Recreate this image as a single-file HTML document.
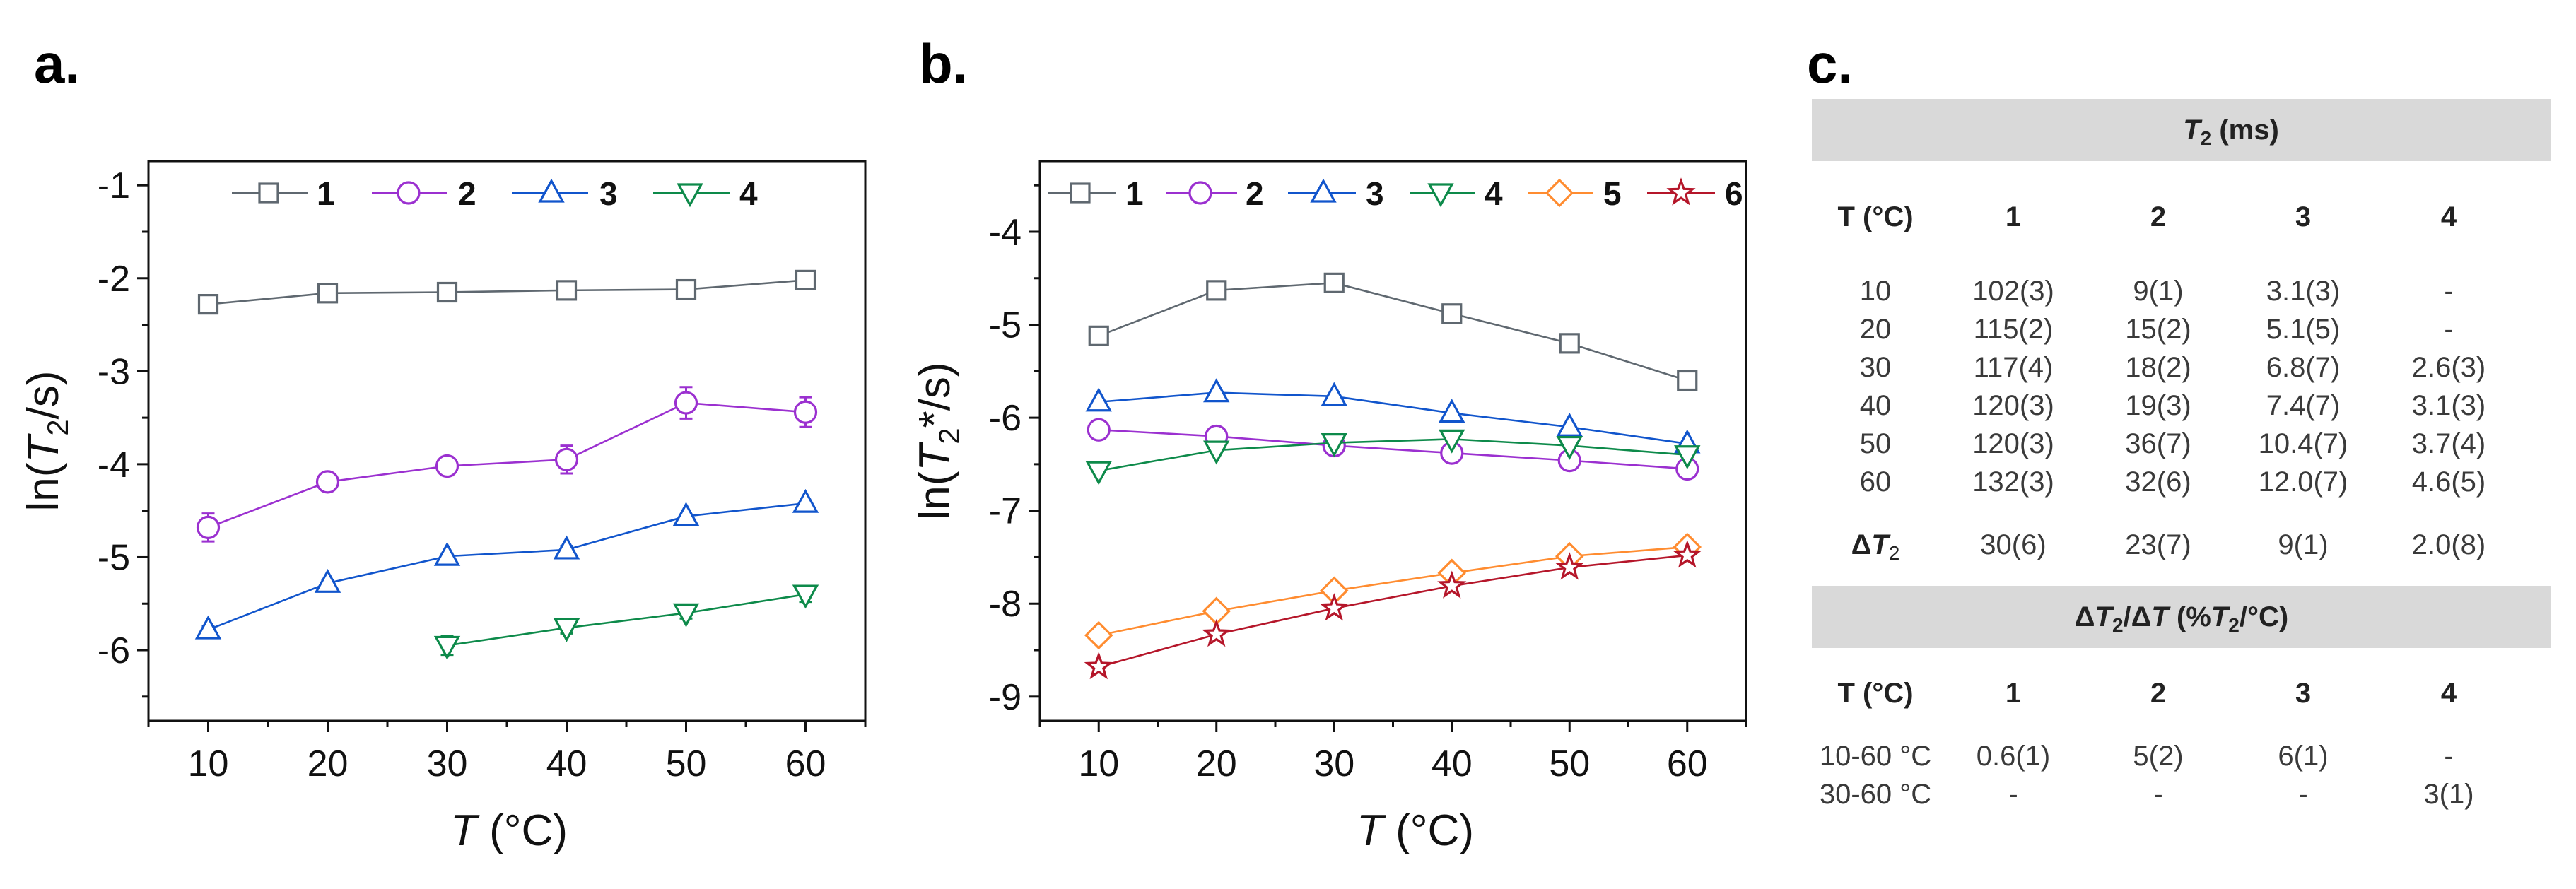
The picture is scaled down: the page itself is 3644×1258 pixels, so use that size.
<!DOCTYPE html>
<html><head><meta charset="utf-8"><style>
body{margin:0;background:#fff}
svg{display:block}
text{font-family:"Liberation Sans",sans-serif}
</style></head><body>
<svg id="fig" width="3644" height="1258" viewBox="0 0 3644 1258" xmlns="http://www.w3.org/2000/svg">
<text x="48" y="117" font-size="78" font-weight="bold">a.</text>
<text x="1300" y="117" font-size="78" font-weight="bold">b.</text>
<text x="2556" y="117" font-size="78" font-weight="bold">c.</text>
<g id="pa"></g>
<g id="pb"></g>
<g id="tc" fill="#3a3a3a" font-size="40">
  <rect x="2563" y="140" width="1046" height="88" fill="#d9d9d9"/>
  <text x="3156" y="197" text-anchor="middle" font-weight="bold" fill="#222"><tspan font-style="italic">T</tspan><tspan font-size="28" dy="8">2</tspan><tspan dy="-8"> (ms)</tspan></text>
  <rect x="2563" y="829" width="1046" height="88" fill="#d9d9d9"/>
  <text x="3086" y="886" text-anchor="middle" font-weight="bold" fill="#222">Δ<tspan font-style="italic">T</tspan><tspan font-size="28" dy="8">2</tspan><tspan dy="-8">/Δ</tspan><tspan font-style="italic">T</tspan> (%<tspan font-style="italic">T</tspan><tspan font-size="28" dy="8">2</tspan><tspan dy="-8">/°C)</tspan></text>
</g>
</svg>
<script>
// ---- data panel a ----
const temps = [10, 20, 30, 40, 50, 60];
const aS1 = [-2.28, -2.16, -2.15, -2.13, -2.12, -2.02];
const aS2 = [-4.68, -4.19, -4.02, -3.95, -3.34, -3.44];
const aS2err = [0.15, 0.08, 0.1, 0.15, 0.17, 0.16];
const aS3 = [-5.78, -5.28, -4.99, -4.92, -4.56, -4.42];
const aS3err = [0.04, 0.03, 0.03, 0.04, 0.02, 0.02];
const aS4 = [null, null, -5.95, -5.76, -5.60, -5.40];
const aS4err = [0, 0, 0.1, 0.06, 0.06, 0.08];
const aYTicks = [-1, -2, -3, -4, -5, -6];
// ---- data panel b ----
const bS1 = [-5.12, -4.63, -4.55, -4.88, -5.20, -5.60];
const bS2 = [-6.13, -6.20, -6.30, -6.38, -6.46, -6.55];
const bS3 = [-5.83, -5.73, -5.77, -5.95, -6.10, -6.28];
const bS4 = [-6.57, -6.35, -6.27, -6.23, -6.30, -6.40];
const bS5 = [-8.34, -8.08, -7.86, -7.67, -7.49, -7.39];
const bS6 = [-8.68, -8.33, -8.05, -7.81, -7.61, -7.48];
const bYTicks = [-4, -5, -6, -7, -8, -9];
const xTicks = [10, 20, 30, 40, 50, 60];
const seriesLabels = ['1', '2', '3', '4', '5', '6'];
// ---- table data ----
const tableTemps = ['10', '20', '30', '40', '50', '60'];
const tCol1 = ['102(3)', '115(2)', '117(4)', '120(3)', '120(3)', '132(3)'];
const tCol2 = ['9(1)', '15(2)', '18(2)', '19(3)', '36(7)', '32(6)'];
const tCol3 = ['3.1(3)', '5.1(5)', '6.8(7)', '7.4(7)', '10.4(7)', '12.0(7)'];
const tCol4 = ['-', '-', '2.6(3)', '3.1(3)', '3.7(4)', '4.6(5)'];
const deltaT2 = ['30(6)', '23(7)', '9(1)', '2.0(8)'];
const rateLabels = ['10-60 °C', '30-60 °C'];
const rate1060 = ['0.6(1)', '5(2)', '6(1)', '-'];
const rate3060 = ['-', '-', '-', '3(1)'];

const NS = 'http://www.w3.org/2000/svg';
function mk(parent, tag, attrs, text) {
  const e = document.createElementNS(NS, tag);
  for (const k in attrs) e.setAttribute(k, attrs[k]);
  if (text !== undefined) e.textContent = text;
  parent.appendChild(e);
  return e;
}
const COL = ['#5f6870', '#9b30d0', '#1155cc', '#0d8a4a', '#ff8c30', '#b5162a'];
const SHAPE = ['square', 'circle', 'up', 'down', 'diamond', 'star'];

function marker(g, shape, x, y, c) {
  const s = 13;
  let el;
  if (shape === 'square') el = mk(g, 'rect', {x: x - s, y: y - s, width: 2 * s, height: 2 * s});
  else if (shape === 'circle') el = mk(g, 'circle', {cx: x, cy: y, r: 15});
  else if (shape === 'up') el = mk(g, 'polygon', {points: `${x},${y - 17} ${x - 16},${y + 12} ${x + 16},${y + 12}`});
  else if (shape === 'down') el = mk(g, 'polygon', {points: `${x},${y + 17} ${x - 16},${y - 12} ${x + 16},${y - 12}`});
  else if (shape === 'diamond') el = mk(g, 'polygon', {points: `${x},${y - 18} ${x + 18},${y} ${x},${y + 18} ${x - 18},${y}`});
  else {
    let p = [];
    for (let i = 0; i < 10; i++) {
      const r = i % 2 ? 7 : 17, a = -Math.PI / 2 + i * Math.PI / 5;
      p.push((x + r * Math.cos(a)).toFixed(1) + ',' + (y + r * Math.sin(a)).toFixed(1));
    }
    el = mk(g, 'polygon', {points: p.join(' ')});
  }
  el.setAttribute('fill', '#fff');
  el.setAttribute('stroke', c);
  el.setAttribute('stroke-width', '3.2');
  return el;
}

function chart(gid, box, yMin, yMax, yTicks, series, errs, legend, yTitleParts, titleX) {
  const g = document.getElementById(gid);
  const [L, T, R, B] = box;
  const xS = v => L + (v - 5) / 60 * (R - L);
  const yS = v => T + (yMax - v) / (yMax - yMin) * (B - T);
  const frame = mk(g, 'rect', {x: L, y: T, width: R - L, height: B - T, fill: 'none', stroke: '#111', 'stroke-width': 3});
  
  
  // y ticks
  for (let v = Math.ceil(yMin * 2) / 2; v <= yMax; v += 0.5) {
    const major = Math.abs(v - Math.round(v)) < 1e-6;
    const tk = mk(g, 'line', {x1: L, x2: L - (major ? 16 : 9), y1: yS(v), y2: yS(v), stroke: '#111', 'stroke-width': 3});
    
    
  }
  yTicks.forEach(v => {
    const t = mk(g, 'text', {x: L - 26, y: yS(v) + 18, 'text-anchor': 'end', 'font-size': 52, fill: '#111'}, String(v));
    
    
  });
  for (let v = 5; v <= 65; v += 5) {
    const major = v % 10 === 0;
    const tk = mk(g, 'line', {x1: xS(v), x2: xS(v), y1: B, y2: B + (major ? 16 : 9), stroke: '#111', 'stroke-width': 3});
    
    
  }
  xTicks.forEach(v => {
    const t = mk(g, 'text', {x: xS(v), y: B + 78, 'text-anchor': 'middle', 'font-size': 52, fill: '#111'}, String(v));
    
    
  });
  // x title
  const xt = mk(g, 'text', {x: titleX, y: B + 176, 'text-anchor': 'middle', 'font-size': 62, fill: '#111'});
  
  
  mk(xt, 'tspan', {'font-style': 'italic'}, 'T');
  mk(xt, 'tspan', {}, ' (°C)');
  // y title
  const yt = mk(g, 'text', {x: 0, y: 0, 'text-anchor': 'middle', 'font-size': 62, fill: '#111', transform: `translate(${L - 128},${(T + B) / 2}) rotate(-90)`});
  
  
  mk(yt, 'tspan', {}, 'ln(');
  mk(yt, 'tspan', {'font-style': 'italic'}, 'T');
  mk(yt, 'tspan', {'font-size': 42, dy: 14}, '2');
  mk(yt, 'tspan', {dy: -14}, yTitleParts);
  // series
  series.forEach((ser, si) => {
    const c = COL[si];
    const sg = mk(g, 'g', {});
    
    
    const pts = [];
    ser.forEach((v, i) => { if (v !== null) pts.push([xS(temps[i]), yS(v), i]); });
    const ln = mk(sg, 'polyline', {points: pts.map(p => p[0] + ',' + p[1]).join(' '), fill: 'none', stroke: c, 'stroke-width': 2.6});
    
    
    pts.forEach(p => {
      const e = errs && errs[si] ? errs[si][p[2]] : 0;
      if (e) {
        const v = ser[p[2]];
        const eb = mk(sg, 'path', {d: `M${p[0]},${yS(v + e)}V${yS(v - e)}M${p[0] - 9},${yS(v + e)}h18M${p[0] - 9},${yS(v - e)}h18`, stroke: c, 'stroke-width': 3, fill: 'none'});
        
        
      }
      const m = marker(sg, SHAPE[si], p[0], p[1], c);
      
      
    });
  });
  // legend
  legend.forEach((lg, si) => {
    const [x1, mx, x2, tx] = lg;
    const c = COL[si];
    const y = 273;
    const lgG = mk(g, 'g', {});
    
    
    mk(lgG, 'line', {x1: x1, x2: x2, y1: y, y2: y, stroke: c, 'stroke-width': 2.6});
    marker(lgG, SHAPE[si], mx, y, c);
    mk(lgG, 'text', {x: tx, y: y + 17, 'font-size': 46, 'font-weight': 'bold', fill: '#111'}, seriesLabels[si]);
  });
}

chart('pa', [210, 228, 1224, 1020], -6.76, -0.74, aYTicks,
  [aS1, aS2, aS3, aS4], [null, aS2err, aS3err, aS4err],
  [[328, 380, 436, 448], [526, 578, 632, 648], [724, 780, 832, 848], [924, 976, 1032, 1046]],
  '/s)', 720);
chart('pb', [1471, 228, 2470, 1020], -9.26, -3.24, bYTicks,
  [bS1, bS2, bS3, bS4, bS5, bS6], null,
  [[1482, 1528, 1578, 1592], [1650, 1698, 1750, 1762], [1822, 1872, 1918, 1932], [1994, 2038, 2086, 2100], [2162, 2206, 2254, 2268], [2330, 2378, 2426, 2440]],
  '*/s)', 2002);

// table
const tc = document.getElementById('tc');
const cx = [2653, 2848, 3053, 3258, 3464];
function cell(x, y, txt, bold, name) {
  const t = mk(tc, 'text', {x: x, y: y, 'text-anchor': 'middle'}, txt);
  if (bold) { t.setAttribute('font-weight', 'bold'); t.setAttribute('fill', '#222'); }
  
  
}
function headerRow(y) {
  cell(cx[0], y, 'T (°C)', true, 'column-header');
  ['1', '2', '3', '4'].forEach((h, i) => cell(cx[i + 1], y, h, true, 'column-header'));
}
headerRow(320);
const cols = [tCol1, tCol2, tCol3, tCol4];
tableTemps.forEach((tp, r) => {
  const y = 425 + r * 54;
  cell(cx[0], y, tp, false, 'row-temperature');
  cols.forEach((col, c) => cell(cx[c + 1], y, col[r], false, 'table-cell'));
});
const dl = mk(tc, 'text', {x: cx[0], y: 784, 'text-anchor': 'middle', 'font-weight': 'bold', fill: '#222'});


mk(dl, 'tspan', {}, 'Δ');
mk(dl, 'tspan', {'font-style': 'italic'}, 'T');
mk(dl, 'tspan', {'font-size': 28, dy: 8, 'font-weight': 'normal'}, '2');
deltaT2.forEach((v, i) => cell(cx[i + 1], 784, v, false, 'delta-t2-cell'));
headerRow(994);
cell(cx[0], 1083, rateLabels[0], false, 'rate-row-label');
cell(cx[0], 1137, rateLabels[1], false, 'rate-row-label');
rate1060.forEach((v, i) => cell(cx[i + 1], 1083, v, false, 'rate-cell'));
rate3060.forEach((v, i) => cell(cx[i + 1], 1137, v, false, 'rate-cell'));
</script>
</body></html>
